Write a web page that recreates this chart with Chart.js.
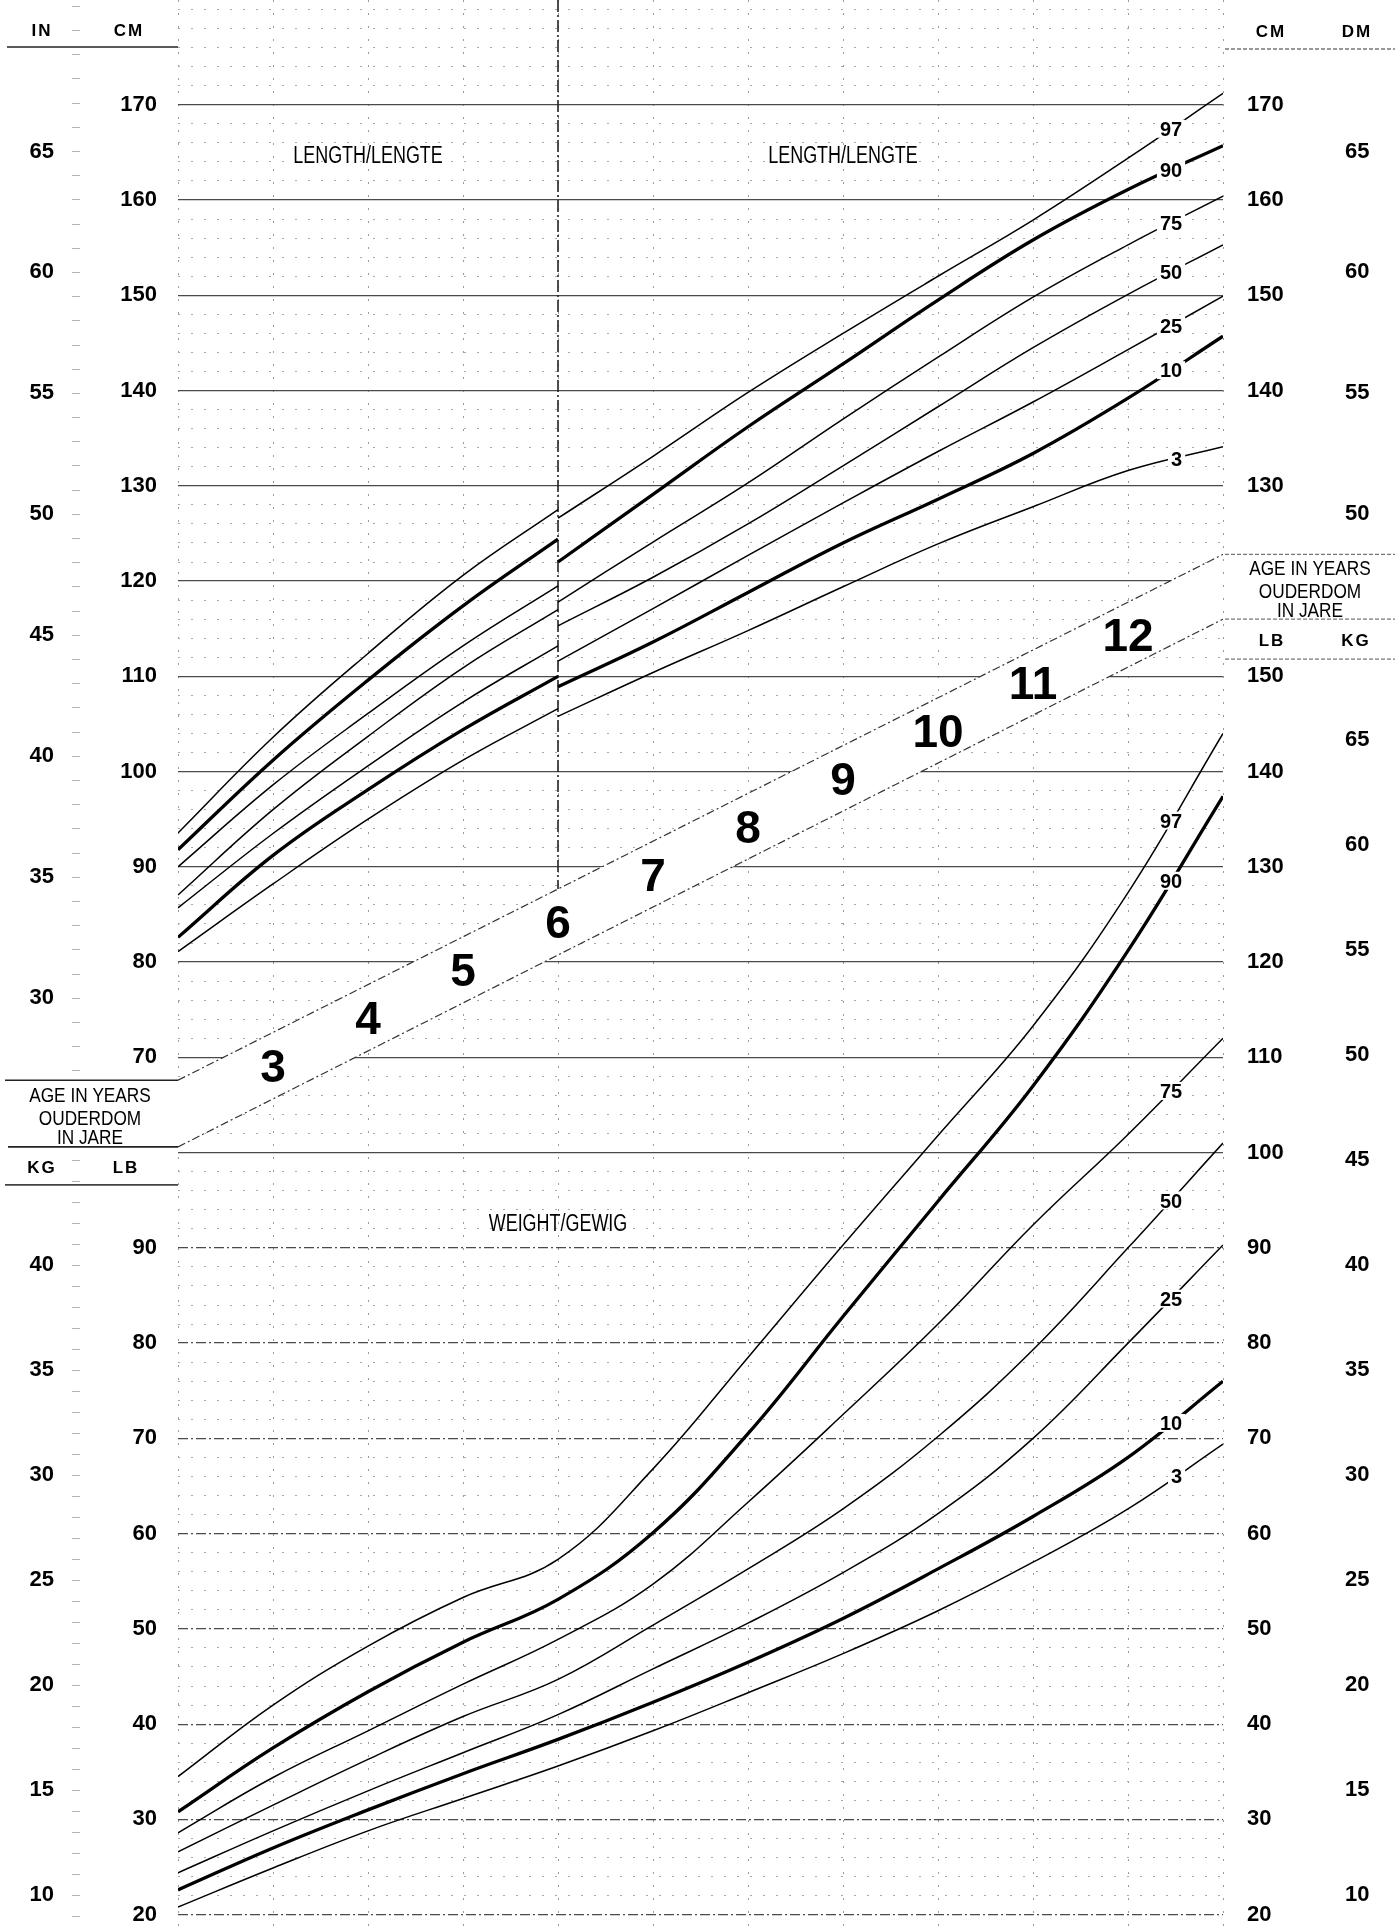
<!DOCTYPE html>
<html>
<head>
<meta charset="utf-8">
<script src="https://cdn.jsdelivr.net/npm/chart.js@4.4.1/dist/chart.umd.min.js"></script>
<style>
  html, body { margin: 0; padding: 0; background: #fff; }
  #wrap { width: 1400px; height: 1928px; position: relative; }
</style>
</head>
<body>
<div id="wrap"><canvas id="chart"></canvas></div>
<script>
// ---- Ages (years) ----
const AGES_LEN_EARLY = [2, 3, 4, 5, 6];
const AGES_LEN_LATE = [6, 7, 8, 9, 10, 11, 12, 13];
const AGES_WEIGHT = [2, 3, 4, 5, 6, 7, 8, 9, 10, 11, 12, 13];
const BAND_AGES = [3, 4, 5, 6, 7, 8, 9, 10, 11, 12];

// ---- Length (cm), ages 2-6 ----
const LEN_EARLY_P97 = [93.55, 103.6, 112.4, 120.6, 127.5];
const LEN_EARLY_P90 = [91.8, 101.2, 109.6, 117.4, 124.4];
const LEN_EARLY_P75 = [90.0, 98.6, 106.1, 113.2, 119.5];
const LEN_EARLY_P50 = [87.05, 96.0, 103.7, 110.9, 117.0];
const LEN_EARLY_P25 = [85.7, 93.5, 100.6, 107.3, 113.2];
const LEN_EARLY_P10 = [82.6, 91.2, 98.1, 104.4, 110.0];
const LEN_EARLY_P3  = [81.1, 88.2, 95.0, 101.2, 106.6];

// ---- Length (cm), ages 6-13 ----
const LEN_LATE_P97 = [126.6, 133.1, 139.8, 146.0, 152.0, 157.9, 164.4, 171.2];
const LEN_LATE_P90 = [122.0, 129.1, 136.2, 142.8, 149.5, 155.8, 161.1, 165.7];
const LEN_LATE_P75 = [117.8, 124.1, 130.3, 137.0, 143.5, 149.8, 155.3, 160.4];
const LEN_LATE_P50 = [115.3, 120.4, 126.0, 132.1, 138.3, 144.5, 150.1, 155.3];
const LEN_LATE_P25 = [111.6, 117.1, 122.7, 128.2, 133.6, 138.8, 144.3, 149.9];
const LEN_LATE_P10 = [108.9, 113.6, 118.8, 124.0, 128.6, 133.4, 139.2, 145.7];
const LEN_LATE_P3  = [105.8, 110.4, 114.8, 119.4, 123.9, 127.8, 131.6, 134.1];

// ---- Weight (lb), ages 2-13 ----
const WT_P97 = [34.5, 42.0, 48.2, 53.3, 57.3, 66.8, 78.5, 90.3, 101.8, 113.3, 127.3, 144.0];
const WT_P90 = [30.8, 37.5, 43.4, 48.6, 53.1, 60.1, 70.5, 82.8, 94.9, 107.0, 121.2, 137.4];
const WT_P75 = [28.6, 34.4, 39.3, 44.2, 48.9, 54.7, 63.3, 72.5, 82.0, 92.4, 101.9, 112.0];
const WT_P50 = [26.6, 31.5, 36.3, 40.8, 44.7, 50.4, 56.3, 62.6, 70.2, 79.3, 90.0, 101.0];
const WT_P25 = [24.4, 28.8, 33.0, 37.0, 41.0, 45.8, 50.6, 55.9, 62.1, 70.0, 80.0, 90.3];
const WT_P10 = [22.6, 27.0, 31.0, 34.8, 38.4, 42.3, 46.5, 51.1, 56.3, 61.8, 68.0, 76.0];
const WT_P3  = [20.8, 24.9, 28.8, 32.2, 35.6, 39.3, 43.3, 47.4, 51.9, 57.0, 62.6, 69.4];

const PERCENTILES = ['97', '90', '75', '50', '25', '10', '3'];
const BOLD_PERCENTILES = ['90', '10'];

// ---- Axis tick labels ----
const CM_LEFT_LABELS = [70, 80, 90, 100, 110, 120, 130, 140, 150, 160, 170];
const LB_LEFT_LABELS = [20, 30, 40, 50, 60, 70, 80, 90];
const CM_RIGHT_LABELS = [130, 140, 150, 160, 170];
const LB_RIGHT_LABELS = [20, 30, 40, 50, 60, 70, 80, 90, 100, 110, 120, 130, 140, 150];
const IN_LEFT_LABELS = [30, 35, 40, 45, 50, 55, 60, 65];
const KG_LEFT_LABELS = [10, 15, 20, 25, 30, 35, 40];
const DM_RIGHT_LABELS = [50, 55, 60, 65];
const KG_RIGHT_LABELS = [10, 15, 20, 25, 30, 35, 40, 45, 50, 55, 60, 65];

// Diagonal age band edges (cm scale) at age 2 and age 13
const BAND_TOP = [67.6, 122.8];
const BAND_BOTTOM = [60.6, 116.0];

// Shared vertical scale: the length grid is in cm; the weight grid sits 40 units lower
// (150 lb lines up with 110 cm), so lb = cm-scale value + 40.
const U_MIN = -21.4, U_MAX = 181;
const LB_SHIFT = 40;
const fromInch = v => v * 2.54;
const fromKg = v => v * 2.20462 - LB_SHIFT;
const fromLb = v => v - LB_SHIFT;

const FONT = '"Liberation Sans", Arial, Helvetica, sans-serif';
const key = v => Math.round(v * 100);

function labelMap(pairs) {
  const m = new Map();
  pairs.forEach(([u, t]) => m.set(key(u), t));
  return m;
}
const cmLeftMap = labelMap([
  ...CM_LEFT_LABELS.map(v => [v, String(v)]),
  ...LB_LEFT_LABELS.map(v => [fromLb(v), String(v)])
]);
const cmRightMap = labelMap([
  ...CM_RIGHT_LABELS.map(v => [v, String(v)]),
  ...LB_RIGHT_LABELS.map(v => [fromLb(v), String(v)])
]);
const inLeftMap = labelMap([
  ...IN_LEFT_LABELS.map(v => [fromInch(v), String(v)]),
  ...KG_LEFT_LABELS.map(v => [fromKg(v), String(v)])
]);
const dmRightMap = labelMap([
  ...DM_RIGHT_LABELS.map(v => [fromInch(v), String(v)]),
  ...KG_RIGHT_LABELS.map(v => [fromKg(v), String(v)])
]);

function range(a, b, step) { const r = []; for (let v = a; v <= b + 1e-9; v += step) r.push(v); return r; }
const GRID_VALUES = range(-20, 180, 2);
const IN_MARKS = [...range(27, 71, 1).map(fromInch), ...range(9, 45, 1).map(fromKg)];
const DM_MARKS = [...range(49, 71, 1).map(fromInch), ...range(9, 66, 1).map(fromKg)];

const setTicks = list => axis => {
  axis.ticks = list.filter(v => v >= U_MIN && v <= U_MAX).map(v => ({ value: v }));
};
const isMajor = v => Math.abs(v % 10) < 1e-6 && v <= 170;

// keep the plot area flush with the canvas edges
const noPad = s => { s.paddingTop = 0; s.paddingBottom = 0; s.paddingLeft = 0; s.paddingRight = 0; };
const fitWidth = w => s => { s.width = w; noPad(s); };

function curve(ages, values, pct, axis) {
  const bold = BOLD_PERCENTILES.includes(pct);
  return {
    label: pct,
    data: ages.map((a, i) => ({ x: a, y: values[i] })),
    yAxisID: axis,
    borderColor: '#000',
    borderWidth: bold ? 3.3 : 1.5,
    pointRadius: 0,
    fill: false,
    tension: 0.4,
    order: 0
  };
}

const lenEarly = [LEN_EARLY_P97, LEN_EARLY_P90, LEN_EARLY_P75, LEN_EARLY_P50, LEN_EARLY_P25, LEN_EARLY_P10, LEN_EARLY_P3];
const lenLate = [LEN_LATE_P97, LEN_LATE_P90, LEN_LATE_P75, LEN_LATE_P50, LEN_LATE_P25, LEN_LATE_P10, LEN_LATE_P3];
const weight = [WT_P97, WT_P90, WT_P75, WT_P50, WT_P25, WT_P10, WT_P3];

const bandAt = (edge, age) => edge[0] + (edge[1] - edge[0]) * (age - 2) / 11;

const datasets = [
  ...lenEarly.map((v, i) => curve(AGES_LEN_EARLY, v, PERCENTILES[i], 'yCm')),
  ...lenLate.map((v, i) => curve(AGES_LEN_LATE, v, PERCENTILES[i], 'yCm')),
  ...weight.map((v, i) => curve(AGES_WEIGHT, v, PERCENTILES[i], 'yLb')),
  { // 6-year divider
    data: [{ x: 6, y: U_MAX }, { x: 6, y: bandAt(BAND_TOP, 6) }],
    yAxisID: 'yCm', borderColor: '#222', borderWidth: 1.6, borderDash: [12, 3, 2, 3],
    pointRadius: 0, fill: false, order: 1
  },
  { // band upper edge
    data: [{ x: 2, y: BAND_TOP[0] }, { x: 13, y: BAND_TOP[1] }],
    yAxisID: 'yCm', borderColor: '#333', borderWidth: 1.2, borderDash: [8, 3, 2, 3],
    pointRadius: 0, fill: false, order: 10
  },
  { // band lower edge, the band itself is blank
    data: [{ x: 2, y: BAND_BOTTOM[0] }, { x: 13, y: BAND_BOTTOM[1] }],
    yAxisID: 'yCm', borderColor: '#333', borderWidth: 1.2, borderDash: [8, 3, 2, 3],
    pointRadius: 0, fill: '-1', backgroundColor: '#ffffff', order: 10
  }
];

function interp(ages, vals, a) {
  for (let i = 0; i < ages.length - 1; i++) {
    if (a >= ages[i] && a <= ages[i + 1]) {
      const t = (a - ages[i]) / (ages[i + 1] - ages[i]);
      return vals[i] + t * (vals[i + 1] - vals[i]);
    }
  }
  return vals[vals.length - 1];
}

function drawText(ctx, str, x, yMid, size, opts = {}) {
  ctx.save();
  ctx.translate(x, yMid + 0.358 * size);
  ctx.scale(opts.sx || 1, 1);
  ctx.font = `${opts.weight || 'bold'} ${size}px ${FONT}`;
  if (opts.spacing) ctx.letterSpacing = opts.spacing;
  ctx.textAlign = opts.align || 'center';
  ctx.textBaseline = 'alphabetic';
  ctx.fillStyle = '#000';
  ctx.fillText(str, 0, 0);
  ctx.restore();
}

function hline(ctx, x1, x2, y, color, width, dash) {
  ctx.save();
  ctx.strokeStyle = color; ctx.lineWidth = width;
  ctx.setLineDash(dash || []);
  ctx.beginPath(); ctx.moveTo(x1, y); ctx.lineTo(x2, y); ctx.stroke();
  ctx.restore();
}

const decor = {
  id: 'decor',
  afterDatasetsDraw(chart) {
    const { ctx, scales } = chart;
    const X = scales.x, Y = scales.yCm, YL = scales.yLb;

    // age numbers inside the band
    BAND_AGES.forEach(a => {
      const mid = (bandAt(BAND_TOP, a) + bandAt(BAND_BOTTOM, a)) / 2;
      drawText(ctx, String(a), X.getPixelForValue(a), Y.getPixelForValue(mid), 46);
    });

    // percentile labels at the right end of each curve
    const LABEL_RIGHT_AGE = 12.57;
    const labelCurve = (ages, vals, pct, scale) => {
      ctx.save();
      ctx.font = `bold 20px ${FONT}`;
      const w = ctx.measureText(pct).width;
      ctx.restore();
      const xr = X.getPixelForValue(LABEL_RIGHT_AGE);
      const xc = xr - w / 2;
      const a = X.getValueForPixel(xc);
      const y = scale.getPixelForValue(interp(ages, vals, a));
      ctx.save();
      ctx.fillStyle = '#fff';
      ctx.fillRect(xr - w - 3, y - 9, w + 6, 18);
      ctx.restore();
      drawText(ctx, pct, xr, y, 20, { align: 'right' });
    };
    lenLate.forEach((v, i) => labelCurve(AGES_LEN_LATE, v, PERCENTILES[i], Y));
    weight.forEach((v, i) => labelCurve(AGES_WEIGHT, v, PERCENTILES[i], YL));

    // section titles
    drawText(ctx, 'LENGTH/LENGTE', X.getPixelForValue(4), Y.getPixelForValue(164.8), 23, { weight: 'normal', sx: 0.78 });
    drawText(ctx, 'LENGTH/LENGTE', X.getPixelForValue(9), Y.getPixelForValue(164.8), 23, { weight: 'normal', sx: 0.78 });
    drawText(ctx, 'WEIGHT/GEWIG', X.getPixelForValue(6), YL.getPixelForValue(92.6), 23, { weight: 'normal', sx: 0.78 });

    // left margin headers and boxes
    const left = chart.chartArea.left, right = chart.chartArea.right;
    drawText(ctx, 'IN', 42, 30, 17, { spacing: '2px' });
    drawText(ctx, 'CM', 129, 30, 17, { spacing: '2px' });
    hline(ctx, 7, left, 47, '#222', 1.6);
    const yTopL = Y.getPixelForValue(BAND_TOP[0]);
    const yBotL = Y.getPixelForValue(BAND_BOTTOM[0]);
    hline(ctx, 5, left, yTopL, '#222', 1.6);
    hline(ctx, 8, left, yBotL, '#222', 1.6);
    drawText(ctx, 'AGE IN YEARS', 90, yTopL + 14.5, 21, { weight: 'normal', sx: 0.82 });
    drawText(ctx, 'OUDERDOM', 90, yTopL + 37.5, 21, { weight: 'normal', sx: 0.82 });
    drawText(ctx, 'IN JARE', 90, yTopL + 56, 21, { weight: 'normal', sx: 0.82 });
    drawText(ctx, 'KG', 42, yBotL + 20, 17, { spacing: '2px' });
    drawText(ctx, 'LB', 126, yBotL + 20, 17, { spacing: '2px' });
    hline(ctx, 5, left, yBotL + 38, '#444', 1.6);

    // right margin headers and boxes
    drawText(ctx, 'CM', 1271, 31, 17, { spacing: '2px' });
    drawText(ctx, 'DM', 1357, 31, 17, { spacing: '2px' });
    hline(ctx, right + 2, 1395, 49, '#777', 1.4, [4, 2]);
    const yTopR = Y.getPixelForValue(BAND_TOP[1]);
    const yBotR = Y.getPixelForValue(BAND_BOTTOM[1]);
    hline(ctx, right + 2, 1395, yTopR, '#777', 1.4, [4, 2]);
    hline(ctx, right + 2, 1395, yBotR, '#777', 1.4, [4, 2]);
    drawText(ctx, 'AGE IN YEARS', 1310, yTopR + 13.5, 21, { weight: 'normal', sx: 0.82 });
    drawText(ctx, 'OUDERDOM', 1310, yTopR + 36.5, 21, { weight: 'normal', sx: 0.82 });
    drawText(ctx, 'IN JARE', 1310, yTopR + 55, 21, { weight: 'normal', sx: 0.82 });
    drawText(ctx, 'LB', 1272, yBotR + 21, 17, { spacing: '2px' });
    drawText(ctx, 'KG', 1356, yBotR + 21, 17, { spacing: '2px' });
    hline(ctx, right + 2, 1395, yBotR + 40, '#777', 1.4, [4, 2]);
  }
};

const tickFont = { family: FONT, weight: 'bold', size: 22 };
const hiddenGrid = { drawOnChartArea: false, drawTicks: false };

new Chart(document.getElementById('chart'), {
  type: 'line',
  data: { datasets },
  options: {
    responsive: true,
    maintainAspectRatio: false,
    animation: false,
    events: [],
    layout: { padding: 0 },
    plugins: { legend: { display: false }, tooltip: { enabled: false } },
    scales: {
      x: {
        type: 'linear', position: 'bottom', min: 2, max: 13,
        ticks: { display: false, stepSize: 1 },
        grid: { color: '#9a9a9a', lineWidth: 1, drawTicks: false },
        border: { display: false, dash: [2, 11] },
        afterFit: s => { s.height = 0; noPad(s); }
      },
      yIn: {
        type: 'linear', position: 'left', weight: 2, min: U_MIN, max: U_MAX,
        afterBuildTicks: setTicks(IN_MARKS),
        afterFit: fitWidth(80),
        ticks: {
          autoSkip: false, font: tickFont, color: '#000', crossAlign: 'center', padding: 18,
          callback: v => inLeftMap.get(key(v)) || ''
        },
        grid: { drawOnChartArea: false, drawTicks: true, tickLength: 8, tickColor: '#b4b4b4', tickWidth: 1 },
        border: { display: false }
      },
      yCm: {
        type: 'linear', position: 'left', weight: 1, min: U_MIN, max: U_MAX,
        afterBuildTicks: setTicks(GRID_VALUES),
        afterFit: fitWidth(98),
        ticks: {
          autoSkip: false, font: tickFont, color: '#000', crossAlign: 'near', padding: 21,
          callback: v => cmLeftMap.get(key(v)) || ''
        },
        grid: {
          drawTicks: false,
          color: c => (c.tick && isMajor(c.tick.value)) ? '#4a4a4a' : '#a8a8a8',
          lineWidth: c => (c.tick && isMajor(c.tick.value)) ? 1.3 : 1
        },
        border: {
          display: false,
          dash: c => {
            if (!c.tick) return [];
            if (isMajor(c.tick.value)) return c.tick.value < 60 ? [10, 3, 2, 3] : [];
            return [2, 11];
          }
        }
      },
      yLb: {
        type: 'linear', display: false, min: U_MIN + LB_SHIFT, max: U_MAX + LB_SHIFT
      },
      yCmR: {
        type: 'linear', position: 'right', weight: 1, min: U_MIN, max: U_MAX,
        afterBuildTicks: setTicks(GRID_VALUES),
        afterFit: fitWidth(90),
        ticks: {
          autoSkip: false, font: tickFont, color: '#000', crossAlign: 'near', padding: 24,
          callback: v => cmRightMap.get(key(v)) || ''
        },
        grid: hiddenGrid,
        border: { display: false }
      },
      yDm: {
        type: 'linear', position: 'right', weight: 2, min: U_MIN, max: U_MAX,
        afterBuildTicks: setTicks(DM_MARKS),
        afterFit: fitWidth(87),
        ticks: {
          autoSkip: false, font: tickFont, color: '#000', crossAlign: 'center', padding: 32,
          callback: v => dmRightMap.get(key(v)) || ''
        },
        grid: hiddenGrid,
        border: { display: false }
      }
    }
  },
  plugins: [decor]
});
</script>
</body>
</html>
